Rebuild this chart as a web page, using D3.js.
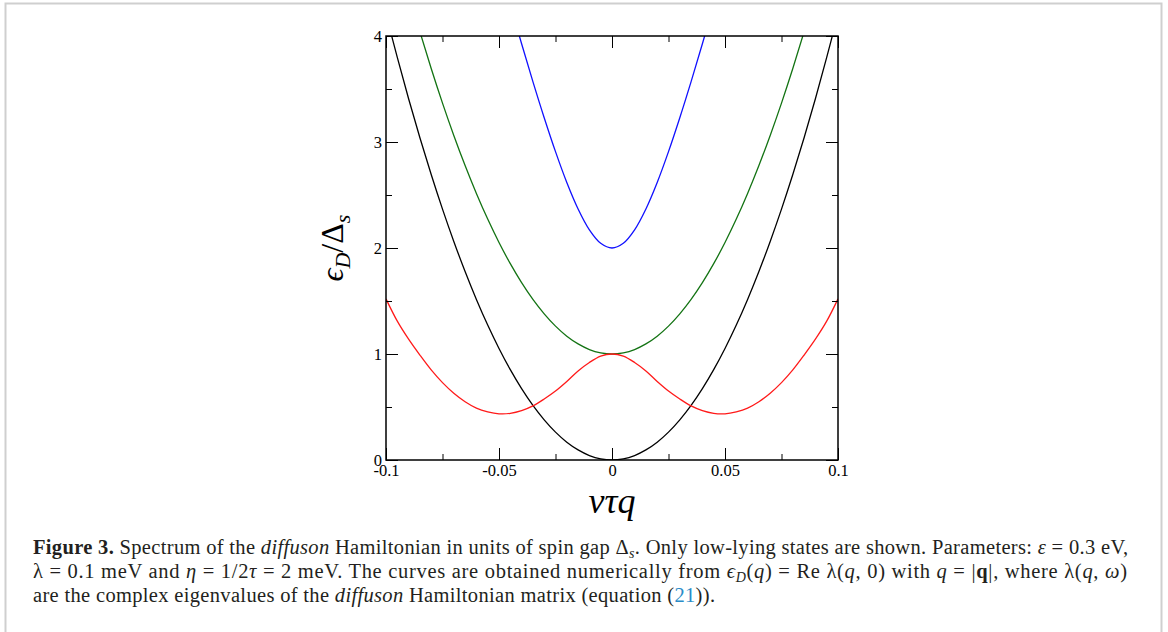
<!DOCTYPE html>
<html>
<head>
<meta charset="utf-8">
<script src="https://cdn.jsdelivr.net/npm/d3@7"></script>
<style>
  html, body { margin: 0; padding: 0; background: #fff; }
  svg { display: block; }
</style>
</head>
<body>
<svg id="chart" width="1168" height="632"></svg>
<script>
// ---- data ----
const qValues = [-0.1,-0.095,-0.09,-0.085,-0.08,-0.075,-0.07,-0.065,-0.06,-0.055,-0.05,-0.045,-0.04,-0.035,-0.03,-0.025,-0.02,-0.015,-0.01,-0.005,0,0.005,0.01,0.015,0.02,0.025,0.03,0.035,0.04,0.045,0.05,0.055,0.06,0.065,0.07,0.075,0.08,0.085,0.09,0.095,0.1];
const blackValues = [4.208,3.798,3.408,3.040,2.693,2.367,2.062,1.778,1.515,1.273,1.052,0.852,0.673,0.515,0.379,0.263,0.168,0.095,0.042,0.0105,0,0.0105,0.042,0.095,0.168,0.263,0.379,0.515,0.673,0.852,1.052,1.273,1.515,1.778,2.062,2.367,2.693,3.040,3.408,3.798,4.208];
const greenValues = [null,null,4.408,4.040,3.693,3.367,3.062,2.778,2.515,2.273,2.052,1.852,1.673,1.515,1.379,1.263,1.168,1.095,1.042,1.011,1,1.011,1.042,1.095,1.168,1.263,1.379,1.515,1.673,1.852,2.052,2.273,2.515,2.778,3.062,3.367,3.693,4.040,4.408,null,null];
const blueValues = [null,null,null,null,null,null,null,null,null,null,null,4.296,3.927,3.570,3.229,2.909,2.618,2.368,2.171,2.044,2,2.044,2.171,2.368,2.618,2.909,3.229,3.570,3.927,4.296,null,null,null,null,null,null,null,null,null,null,null];
const redValues = [1.52,1.31,1.14,0.99,0.85,0.73,0.63,0.55,0.49,0.455,0.436,0.44,0.465,0.51,0.575,0.65,0.74,0.84,0.92,0.98,1.0,0.98,0.92,0.84,0.74,0.65,0.575,0.51,0.465,0.44,0.436,0.455,0.49,0.55,0.63,0.73,0.85,0.99,1.14,1.31,1.52];

const xMajorTicks = [-0.1,-0.05,0,0.05,0.1];
const xMajorLabels = ["-0.1","-0.05","0","0.05","0.1"];
const xMinorTicks = [-0.075,-0.025,0.025,0.075];
const yMajorTicks = [0,1,2,3,4];
const yMajorLabels = ["0","1","2","3","4"];
const yMinorTicks = [0.5,1.5,2.5,3.5];

const seriesList = [
  {name: "black", values: blackValues, color: "#000000"},
  {name: "green", values: greenValues, color: "#137313"},
  {name: "blue",  values: blueValues,  color: "#1010ff"},
  {name: "red",   values: redValues,   color: "#ff1a1a"}
];

// ---- layout ----
const svg = d3.select("#chart");
const L = 386, R = 838, T = 36, B = 460;
const x = d3.scaleLinear().domain([-0.1, 0.1]).range([L, R]);
const y = d3.scaleLinear().domain([0, 4]).range([B, T]);

// page frame
svg.append("path")
  .attr("d", `M5.5,${640} L5.5,3.5 L1161.5,3.5 L1161.5,${640}`)
  .attr("fill", "none").attr("stroke", "#cfcfcf").attr("stroke-width", 2);

// clip
svg.append("clipPath").attr("id", "plotclip")
  .append("rect").attr("x", L).attr("y", T).attr("width", R - L).attr("height", B - T);

// curves
const line = d3.line()
  .defined(d => d[1] !== null)
  .x(d => x(d[0])).y(d => y(d[1]))
  .curve(d3.curveCatmullRom.alpha(0.5));

const curveG = svg.append("g").attr("clip-path", "url(#plotclip)");
seriesList.forEach(s => {
  curveG.append("path")
    .datum(qValues.map((q, i) => [q, s.values[i]]))
    .attr("d", line)
    .attr("fill", "none")
    .attr("stroke", s.color)
    .attr("stroke-width", 1.3);
});

// axes
const tickFont = "'Liberation Serif', 'Times New Roman', serif";
function styleAxis(g) {
  g.select(".domain").remove();
  g.selectAll(".tick line").attr("stroke", "#000").attr("stroke-width", 1);
  g.selectAll(".tick text").attr("font-family", tickFont).attr("font-size", 16.5).attr("fill", "#000");
}
// bottom
svg.append("g").attr("transform", `translate(0,${B})`)
  .call(d3.axisBottom(x).tickValues(xMajorTicks).tickSize(-12).tickPadding(4)
    .tickFormat((d, i) => xMajorLabels[i])).call(styleAxis);
svg.append("g").attr("transform", `translate(0,${B})`)
  .call(d3.axisBottom(x).tickValues(xMinorTicks).tickSize(-6).tickFormat("")).call(styleAxis);
// top
svg.append("g").attr("transform", `translate(0,${T})`)
  .call(d3.axisTop(x).tickValues(xMajorTicks).tickSize(-12).tickFormat("")).call(styleAxis);
svg.append("g").attr("transform", `translate(0,${T})`)
  .call(d3.axisTop(x).tickValues(xMinorTicks).tickSize(-6).tickFormat("")).call(styleAxis);
// left
svg.append("g").attr("transform", `translate(${L},0)`)
  .call(d3.axisLeft(y).tickValues(yMajorTicks).tickSize(-12).tickPadding(4)
    .tickFormat((d, i) => yMajorLabels[i])).call(styleAxis);
svg.append("g").attr("transform", `translate(${L},0)`)
  .call(d3.axisLeft(y).tickValues(yMinorTicks).tickSize(-6).tickFormat("")).call(styleAxis);
// right
svg.append("g").attr("transform", `translate(${R},0)`)
  .call(d3.axisRight(y).tickValues(yMajorTicks).tickSize(-12).tickFormat("")).call(styleAxis);
svg.append("g").attr("transform", `translate(${R},0)`)
  .call(d3.axisRight(y).tickValues(yMinorTicks).tickSize(-6).tickFormat("")).call(styleAxis);

// frame
svg.append("rect").attr("x", L).attr("y", T).attr("width", R - L).attr("height", B - T)
  .attr("fill", "none").attr("stroke", "#000").attr("stroke-width", 1.5);

// helper for rich text
function richText(sel, parts) {
  let shift = 0;
  parts.forEach(p => {
    const ts = sel.append("tspan").text(p.t);
    const target = p.sub ? p.sub : 0;
    if (target !== shift) { ts.attr("dy", target - shift); shift = target; }
    if (p.i) ts.attr("font-style", "italic");
    if (p.b) ts.attr("font-weight", "bold");
    if (p.fs) ts.attr("font-size", p.fs);
    if (p.c) ts.attr("fill", p.c);
  });
}

// axis titles
const xTitle = svg.append("text")
  .attr("x", x(0)).attr("y", 513).attr("text-anchor", "middle")
  .attr("font-family", "'Liberation Serif', serif").attr("font-size", 36).attr("font-style", "italic");
xTitle.text("vτq");

const yTitle = svg.append("text")
  .attr("transform", `translate(343,${y(2)}) rotate(-90)`)
  .attr("text-anchor", "middle")
  .attr("font-family", "'Liberation Serif', serif").attr("font-size", 32);
richText(yTitle, [
  {t: "ϵ", i: true},
  {t: "D", i: true, sub: 7, fs: 22},
  {t: "/", sub: 0},
  {t: "Δ"},
  {t: "s", i: true, sub: 7, fs: 22}
]);

// caption
const capFont = "'Liberation Serif', 'Times New Roman', serif";
const capColor = "#231f20";
function capLine(yy, parts, len) {
  const t = svg.append("text").attr("x", 33).attr("y", yy)
    .attr("font-family", capFont).attr("font-size", 20.5).attr("fill", capColor);
  if (len) t.attr("textLength", len).attr("lengthAdjust", "spacing");
  richText(t, parts);
  return t;
}
capLine(554, [
  {t: "Figure 3.", b: true},
  {t: " Spectrum of the "},
  {t: "diffuson", i: true},
  {t: " Hamiltonian in units of spin gap Δ"},
  {t: "s", i: true, sub: 4, fs: 14},
  {t: ". Only low-lying states are shown. Parameters: ", sub: 0},
  {t: "ε", i: true},
  {t: " = 0.3 eV,"}
], 1095);
capLine(578, [
  {t: "λ = 0.1 meV and "},
  {t: "η", i: true},
  {t: " = 1/2"},
  {t: "τ", i: true},
  {t: " = 2 meV. The curves are obtained numerically from "},
  {t: "ϵ", i: true},
  {t: "D", i: true, sub: 4, fs: 14},
  {t: "(", sub: 0},
  {t: "q", i: true},
  {t: ") = Re λ("},
  {t: "q", i: true},
  {t: ", 0) with "},
  {t: "q", i: true},
  {t: " = |"},
  {t: "q", b: true},
  {t: "|, where λ("},
  {t: "q", i: true},
  {t: ", "},
  {t: "ω", i: true},
  {t: ")"}
], 1094);
capLine(602, [
  {t: "are the complex eigenvalues of the "},
  {t: "diffuson", i: true},
  {t: " Hamiltonian matrix (equation ("},
  {t: "21", c: "#2a8cc8"},
  {t: "))."}
], 682);
</script>
</body>
</html>
